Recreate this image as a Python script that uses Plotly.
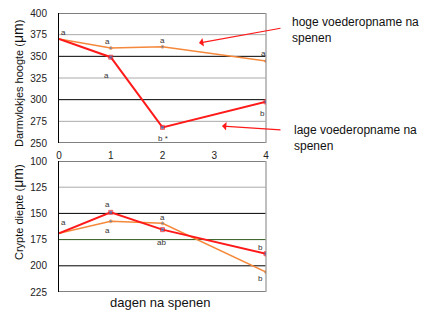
import plotly.graph_objects as go

days = [0, 1, 2, 4]
villus_high = [370, 359.5, 361, 344.5]
villus_low = [370, 349, 268, 297.5]
crypt_high = [169, 157.5, 159.5, 206]
crypt_low = [169, 149, 165.5, 188.5]

y1_ticks = [250, 275, 300, 325, 350, 375, 400]
y2_ticks = [100, 125, 150, 175, 200, 225]
x_ticks = [0, 1, 2, 3, 4]

# letters: (x, y, text, xshift, yshift, panel)
letters = [
    (0, 370, "a", 4, 7, 1),
    (1, 359.5, "a", -3, 7, 1),
    (1, 349, "a", -4, -18, 1),
    (2, 361, "a", 0, 6, 1),
    (2, 268, "b *", 0, -11, 1),
    (4, 344.5, "a", -3, 8, 1),
    (4, 297.5, "b", -4, -12, 1),
    (0, 169, "a", 4, 11, 2),
    (1, 149, "a", -3, 8, 2),
    (1, 157.5, "a", -3, -9, 2),
    (2, 159.5, "a", 0, 6, 2),
    (2, 165.5, "ab", -1, -13, 2),
    (4, 188.5, "b", -6, 6, 2),
    (4, 206, "b", -6, -6, 2),
]

RED = "#ff1a1a"
ORANGE = "#f5883a"
BLUE = "#3d7fc4"
FONT = "Liberation Sans, Arial, sans-serif"

OFF = 8  # page body margin
W, H = 434 - OFF, 323 - OFF
ML, MT = 59 - OFF, 13 - OFF
PW, PH = 207, 279
MR, MB = W - ML - PW, H - MT - PH

def px(xp):
    return (xp - OFF - ML) / PW

def py(yp):
    return (H - MB - (yp - OFF)) / PH

fig = go.Figure()
msize_sq = [0, 4, 4, 4]
msize_dot = [0, 3, 3, 3]

fig.add_trace(go.Scatter(x=days, y=villus_high, mode="lines+markers",
                         line=dict(color=ORANGE, width=1.5),
                         marker=dict(color=BLUE, size=msize_dot, symbol="circle"),
                         xaxis="x", yaxis="y", showlegend=False))
fig.add_trace(go.Scatter(x=days, y=villus_low, mode="lines+markers",
                         line=dict(color=RED, width=2),
                         marker=dict(color=BLUE, size=msize_sq, symbol="square"),
                         xaxis="x", yaxis="y", showlegend=False))
fig.add_trace(go.Scatter(x=days, y=crypt_high, mode="lines+markers",
                         line=dict(color=ORANGE, width=1.5),
                         marker=dict(color=BLUE, size=msize_dot, symbol="circle"),
                         xaxis="x2", yaxis="y2", showlegend=False))
fig.add_trace(go.Scatter(x=days, y=crypt_low, mode="lines+markers",
                         line=dict(color=RED, width=2),
                         marker=dict(color=BLUE, size=msize_sq, symbol="square"),
                         xaxis="x2", yaxis="y2", showlegend=False))

shapes = []
def hline(y, color, yref, width=1):
    shapes.append(dict(type="line", xref="x domain" if yref == "y" else "x2 domain",
                       yref=yref, x0=0, x1=1, y0=y, y1=y,
                       line=dict(color=color, width=width), layer="below"))

for v, c in [(400, "black"), (375, "#aaaaaa"), (350, "black"), (325, "#aaaaaa"),
             (300, "black"), (275, "#aaaaaa"), (250, "black")]:
    hline(v, c, "y")
for v, c in [(100, "black"), (125, "#aaaaaa"), (150, "black"), (175, "#2f5a1a"),
             (200, "black"), (225, "black")]:
    hline(v, c, "y2")
shapes.append(dict(type="line", xref="x domain", yref="y domain", x0=1, x1=1, y0=0, y1=1,
                   line=dict(color="#aaaaaa", width=1.5), layer="below"))
shapes.append(dict(type="line", xref="x2 domain", yref="y2 domain", x0=1, x1=1, y0=0, y1=1,
                   line=dict(color="#aaaaaa", width=1.5), layer="below"))

annotations = []
for (x, y, t, xs, ys, p) in letters:
    annotations.append(dict(x=x, y=y, xref="x" if p == 1 else "x2", yref="y" if p == 1 else "y2",
                            text=t, showarrow=False, xshift=xs, yshift=ys,
                            font=dict(size=8, color="#333333", family=FONT)))

# arrows
annotations.append(dict(x=2.705, y=365.4, xref="x", yref="y", text="", showarrow=True,
                        ax=83, ay=-15, arrowhead=1, arrowsize=1.2, arrowwidth=1.2,
                        arrowcolor=RED))
annotations.append(dict(x=3.15, y=269.6, xref="x", yref="y", text="", showarrow=True,
                        ax=60, ay=4, arrowhead=1, arrowsize=1.2, arrowwidth=1.2,
                        arrowcolor=RED))
annotations.append(dict(x=px(290), y=py(13), xref="paper", yref="paper",
                        text="hoge voederopname na<br>spenen",
                        showarrow=False, xanchor="left", yanchor="top", align="left",
                        font=dict(size=12, color="#111111", family=FONT)))
annotations.append(dict(x=px(292), y=py(121), xref="paper", yref="paper",
                        text="lage voederopname na<br>spenen",
                        showarrow=False, xanchor="left", yanchor="top", align="left",
                        font=dict(size=12, color="#111111", family=FONT)))

# axis titles
annotations.append(dict(x=px(18), y=py(84), xref="paper", yref="paper", textangle=-90,
                        xanchor="center", yanchor="middle",
                        text="Darmvlokjes hoogte (<span style=\"font-size:14px\">μm</span>)",
                        showarrow=False, font=dict(size=11, color="#111111", family=FONT)))
annotations.append(dict(x=px(18), y=py(212), xref="paper", yref="paper", textangle=-90,
                        xanchor="center", yanchor="middle",
                        text="Crypte diepte (<span style=\"font-size:14px\">μm</span>)",
                        showarrow=False, font=dict(size=11, color="#111111", family=FONT)))
annotations.append(dict(x=px(160), y=py(312), xref="paper", yref="paper",
                        text="dagen na spenen", showarrow=False,
                        font=dict(size=13, color="#111111", family=FONT)))

fig.update_layout(
    width=W, height=H,
    margin=dict(l=ML, r=MR, t=MT, b=MB),
    paper_bgcolor="white", plot_bgcolor="white",
    font=dict(family=FONT, size=10, color="#222222"),
    shapes=shapes,
    annotations=annotations,
)

fig.update_layout(
    xaxis=dict(domain=[0, 1], range=[0, 4], tickvals=x_ticks, showgrid=False,
               zeroline=False, showline=False, ticks="", anchor="y", automargin=False,
               ticklabelstandoff=5, tickfont=dict(size=10, color="#222222")),
    yaxis=dict(domain=[py(143), 1], range=[250, 400], tickvals=y1_ticks,
               showgrid=False, zeroline=False, showline=True, linecolor="black", linewidth=1,
               ticks="", anchor="x", automargin=False, ticklabelstandoff=9,
               ticklabeloverflow="allow",
               tickfont=dict(size=10, color="#222222")),
    xaxis2=dict(domain=[0, 1], range=[0, 4], showticklabels=False, showgrid=False,
                zeroline=False, showline=False, ticks="", anchor="y2", automargin=False),
    yaxis2=dict(domain=[0, py(161)], range=[225, 100], tickvals=y2_ticks,
                showgrid=False, zeroline=False, showline=True, linecolor="black", linewidth=1,
                ticks="", anchor="x2", automargin=False, ticklabelstandoff=9,
                ticklabeloverflow="allow",
                tickfont=dict(size=10, color="#222222")),
)

fig.write_html("out.html")
